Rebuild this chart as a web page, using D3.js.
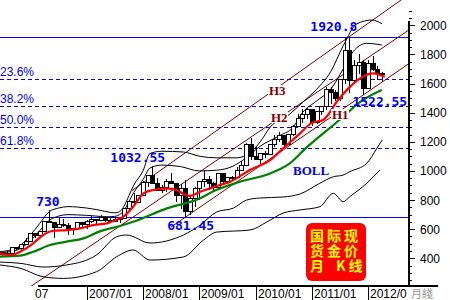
<!DOCTYPE html>
<html>
<head>
<meta charset="utf-8">
<script src="https://cdn.jsdelivr.net/npm/d3@7/dist/d3.min.js"></script>
<style>
  body { margin: 0; background: #fff; }
  svg { display: block; }
</style>
</head>
<body>
<div id="chart"></div>
<script>
// monthly candles, index 0 = 2005/07
const opens  = [437,429,433,473,470,495, 513,568,556,582,654,643,613,632,623,599,604,646,
                632,650,665,662,679,659,650,665,672,743,789,783, 834,923,972,916,864,886,928,912,833,880,718,814,
                882,928,942,917,883,979,927,955,955,1001,1040,1182, 1096,1081,1118,1113,1180,1213,1244,1181,1248,1307,1357,1386,
                1421,1333,1410,1439,1556,1536,1500,1628,1825,1620,1722,1746, 1564,1737,1697,1669];
const highs  = [439,447,476,476,497,539, 572,574,589,654,730,643,679,667,640,608,649,648,
                662,691,673,697,691,674,683,676,745,795,845,837, 934,975,1032.55,951,904,945,988,915,907,935,828,889,
                930,1006,962,921,981,989,960,964,1024,1070,1195,1227, 1162,1125,1140,1183,1249,1265,1246,1250,1314,1388,1424,1431,
                1424,1412,1447,1576,1577,1556,1633,1912,1920.8,1761,1803,1764, 1764,1790,1718,1680];
const lows   = [418,427,433,457,456,489, 513,538,537,581,641,542,605,613,560,561,603,612,
                603,645,636,660,651,642,648,640,672,720,776,782, 834,888,914,863,850,856,908,786,740,681.45,700,753,
                802,890,866,865,868,913,908,928,950,1001,1036,1076, 1073,1045,1088,1113,1164,1199,1155,1180,1242,1305,1331,1360,
                1308,1325,1381,1417,1462,1478,1478,1600,1532,1602,1667,1522.55, 1562,1687,1627,1613];
const closes = [429,433,473,470,495,513, 568,556,582,654,643,613,632,623,599,604,646,632,
                650,665,662,679,659,650,665,672,743,789,783,834, 923,972,916,864,886,928,912,833,880,718,814,882,
                928,942,917,883,979,927,955,955,1001,1040,1182,1096, 1081,1118,1113,1180,1213,1244,1181,1248,1307,1357,1386,1421,
                1333,1410,1439,1556,1536,1500,1628,1825,1620,1722,1746,1564, 1737,1697,1669,1664];

// lines: [month index, price]
const maRed = [[-0.5,434],[1.6,422],[3.8,445],[6.6,503],[8.7,560],[10.9,589],[13.7,594],[16.6,606],[19.4,628],
               [22.3,640],[24,660],[25.8,685],[27.9,754],[30.1,846],[32.2,869],[35.1,880],[37.2,869],[39,835],[40,828],
               [42.2,857],[44.3,880],[46.4,903],[48.6,926],[52.8,1006],[57.1,1075],[59.9,1155],[63.5,1258],[66,1330],
               [68.4,1350],[71.6,1487],[73.8,1567],[76.3,1636],[79.1,1670],[80.5,1659],[81.6,1647]];
const maGreen = [[-0.5,411],[3.8,418],[6.6,445],[10.2,491],[13.7,514],[17.3,537],[20.8,585],[25.1,622],[27.9,651],
                 [35.1,743],[42.2,812],[45,860],[50.7,926],[57.1,983],[61.3,1052],[64.5,1150],[72.7,1372],[75.9,1464],
                 [80.9,1555]];
const bandUpOuter = [[-0.5,445],[3,470],[6,560],[8,640],[10,720],[12,745],[14,755],[16,752],[18,745],[20,735],[22,722],
                     [24,712],[25,720],[26,760],[27,830],[28,900],[30,1000],[31.5,1120],[34,1135],[38.6,1130],[42.2,1100],
                     [45.7,1090],[50,1090],[52.8,1125],[55,1200],[57.1,1300],[61.3,1390],[64,1470],[67,1560],[70,1680],
                     [72.7,1860],[75.6,2010],[78.8,2036],[81,2010]];
const bandUpInner = [[-0.5,438],[3,455],[6,520],[8,590],[10,660],[12,690],[14,700],[16,698],[18,695],[20,690],[22,685],
                     [24,688],[25,700],[26,730],[27,790],[28,850],[30,940],[31.5,1020],[34,1040],[38,1030],[42,1000],
                     [45.7,1005],[49,1030],[52,1090],[55,1170],[59,1240],[62,1300],[64,1400],[67,1480],[70,1560],
                     [72.7,1700],[74.8,1819],[77.7,1876],[80.9,1865]];
const bandLowInner = [[-0.5,374],[4,365],[8.7,340],[13.7,354],[20.1,423],[24.4,548],[26.5,560],[31.5,505],
                      [38.6,560],[42.2,628],[45.7,718],[49.3,745],[52.1,800],[54.9,814],[59.9,821],[63.5,842],
                      [67.7,915],[70.6,960],[72.7,972],[74.1,995],[77.7,1052],[79.9,1157],[81,1212]];
const bandLowOuter = [[-0.5,354],[4,330],[8.7,273],[13,262],[20.1,308],[24.4,411],[27.9,457],[31.5,388],
                      [38.6,409],[42.9,525],[45.7,580],[52.8,594],[56.4,649],[59.9,711],[63.5,732],
                      [67.7,754],[70.6,846],[72.7,789],[74.1,823],[77.7,915],[80.5,1006]];

// trend channel lines: [month, price, month, price]
const trendLines = [[36,615,86.7,1737],[6,205,86.7,1968],[27.6,864,86.7,2212]];
const trendNames = ["H1","H2","H3"];

// retracement between 681.45 and 1920.8
const swingLow = 681.45, swingHigh = 1920.8;
const fibLevels = [0.236, 0.382, 0.5, 0.618];
const fibLabels = ["23.6%","38.2%","50.0%","61.8%"];

const yTicks = [400,600,800,1000,1200,1400,1600,1800,2000];
const xTickMonths = [0,18,30,42,54,66,78];
const xTickLabels = ["07","2007/01","2008/01","2009/01","2010/01","2011/01","2012/0"];

const W = 450, H = 300, axisX = 409, axisY = 286;

const x = d3.scaleLinear().domain([18, 78]).range([86.7, 368.1]);
const y = d3.scaleLinear().domain([400, 2000]).range([258.3, 25.3]);

const svg = d3.select("#chart").append("svg")
  .attr("width", W).attr("height", H)
  .attr("font-family", "'Liberation Sans', Arial, sans-serif");

const defs = svg.append("defs");
defs.append("clipPath").attr("id", "plot")
  .append("rect").attr("x", 0).attr("y", 0).attr("width", axisX).attr("height", axisY);

const plot = svg.append("g").attr("clip-path", "url(#plot)");

// horizontal price lines
plot.selectAll(".hl").data([swingHigh, swingLow]).enter().append("line")
  .attr("x1", 0).attr("x2", axisX)
  .attr("y1", d => Math.round(y(d)) + 0.5).attr("y2", d => Math.round(y(d)) + 0.5)
  .attr("stroke", "#0000ff").attr("stroke-width", 1);

const fibValues = fibLevels.map(f => swingHigh - f * (swingHigh - swingLow));
plot.selectAll(".fib").data(fibValues).enter().append("line")
  .attr("x1", 0).attr("x2", axisX)
  .attr("y1", d => Math.round(y(d)) + 0.5).attr("y2", d => Math.round(y(d)) + 0.5)
  .attr("stroke", "#0000ff").attr("stroke-width", 1).attr("stroke-dasharray", "4,3");

// trend lines
plot.selectAll(".tl").data(trendLines).enter().append("line")
  .attr("x1", d => x(d[0])).attr("y1", d => y(d[1]))
  .attr("x2", d => x(d[2])).attr("y2", d => y(d[3]))
  .attr("stroke", "#800000").attr("stroke-width", 1);

// bollinger bands
const curve = d3.line().x(d => x(d[0])).y(d => y(d[1])).curve(d3.curveMonotoneX);
[bandUpOuter, bandUpInner, bandLowInner, bandLowOuter].forEach(b => {
  plot.append("path").attr("d", curve(b)).attr("fill", "none")
    .attr("stroke", "#000").attr("stroke-width", 1);
});

// candles
const candles = opens.map((o, i) => ({i: i, o: o, h: highs[i], l: lows[i], c: closes[i]}));
const cg = plot.append("g").attr("shape-rendering", "crispEdges");
cg.selectAll(".wick").data(candles).enter().append("line")
  .attr("x1", d => Math.round(x(d.i)) + 0.5).attr("x2", d => Math.round(x(d.i)) + 0.5)
  .attr("y1", d => y(d.h)).attr("y2", d => y(d.l))
  .attr("stroke", "#000");
cg.selectAll(".body").data(candles).enter().append("rect")
  .attr("x", d => Math.round(x(d.i)) - 1.5)
  .attr("width", 4)
  .attr("y", d => y(Math.max(d.o, d.c)))
  .attr("height", d => Math.max(1, Math.abs(y(d.o) - y(d.c))))
  .attr("fill", d => d.c >= d.o ? "#fff" : "#000")
  .attr("stroke", "#000").attr("stroke-width", 1);

// moving averages
plot.append("path").attr("d", curve(maGreen)).attr("fill", "none")
  .attr("stroke", "#008000").attr("stroke-width", 2.2);
plot.append("path").attr("d", curve(maRed)).attr("fill", "none")
  .attr("stroke", "#ff0000").attr("stroke-width", 2.2);

// axes
const ax = svg.append("g").attr("shape-rendering", "crispEdges");
ax.append("line").attr("x1", axisX).attr("x2", axisX).attr("y1", 21).attr("y2", axisY + 1)
  .attr("stroke", "#000").attr("stroke-width", 2);
ax.append("line").attr("x1", 38).attr("x2", 438).attr("y1", axisY).attr("y2", axisY)
  .attr("stroke", "#000").attr("stroke-width", 2);

const minor = d3.range(250, 2101, 50).filter(v => yTicks.indexOf(v) < 0);
ax.selectAll(".mt").data(minor).enter().append("line")
  .attr("x1", axisX).attr("x2", axisX + 3)
  .attr("y1", d => Math.round(y(d)) + 0.5).attr("y2", d => Math.round(y(d)) + 0.5)
  .attr("stroke", "#000");
ax.selectAll(".yt").data(yTicks).enter().append("line")
  .attr("x1", axisX).attr("x2", axisX + 6)
  .attr("y1", d => Math.round(y(d)) + 0.5).attr("y2", d => Math.round(y(d)) + 0.5)
  .attr("stroke", "#000");
svg.selectAll(".yl").data(yTicks).enter().append("text")
  .attr("x", 420).attr("y", d => y(d) + 4.5)
  .attr("font-size", 12).attr("fill", "#000")
  .text(d => d);

// x ticks and labels (first and last labels are cut in the original)
const xl = svg.append("g");
xl.selectAll(".xt").data(xTickMonths.slice(1)).enter().append("line")
  .attr("x1", d => Math.round(x(d)) + 0.5).attr("x2", d => Math.round(x(d)) + 0.5)
  .attr("y1", axisY).attr("y2", H)
  .attr("stroke", "#000").attr("shape-rendering", "crispEdges");
xl.selectAll(".xtl").data(xTickMonths).enter().append("text")
  .attr("x", d => d === 0 ? 35 : Math.round(x(d)) + 2).attr("y", 298)
  .attr("font-size", 12).attr("fill", "#000")
  .text((d, i) => xTickLabels[i]);

svg.append("text").attr("x", 411).attr("y", 298)
  .attr("font-family", "'Noto Sans CJK TC', sans-serif").attr("font-size", 11)
  .attr("fill", "#999").text("月綫");

// fib labels
svg.selectAll(".fl").data(fibValues).enter().append("text")
  .attr("x", 0).attr("y", d => y(d) - 3)
  .attr("font-size", 12).attr("fill", "#0000ff")
  .text((d, i) => fibLabels[i]);

// price labels
const mono = "'DejaVu Sans Mono', monospace";
const priceLabels = [
  {t: "1920.8", v: 1920.8, dx: -39, dy: -6},
  {t: "1032.55", v: 1032.55, dx: -42, dy: -4},
  {t: "730", v: 730, dx: -13, dy: -4},
  {t: "681.45", v: 681.45, dx: -18, dy: 13},
  {t: "1522.55", v: 1522.55, dx: -11, dy: 11}
];
const labelMonths = [74, 32, 10, 39, 77];
svg.selectAll(".pl").data(priceLabels).enter().append("text")
  .attr("x", (d, i) => x(labelMonths[i]) + d.dx)
  .attr("y", d => y(d.v) + d.dy)
  .attr("font-family", mono).attr("font-weight", "bold").attr("font-size", 13)
  .attr("fill", "#0000ff")
  .text(d => d.t);

// trend names on white patches
const trendLabelPos = [[332, 119], [271, 122], [269, 95]];
trendNames.forEach((n, i) => {
  const p = trendLabelPos[i];
  svg.append("rect").attr("x", p[0] - 1).attr("y", p[1] - 10).attr("width", 18).attr("height", 11)
    .attr("fill", "#fff");
  svg.append("text").attr("x", p[0]).attr("y", p[1])
    .attr("font-family", "'Liberation Serif', serif").attr("font-weight", "bold")
    .attr("font-size", 13).attr("fill", "#800000").text(n);
});

svg.append("text").attr("x", 293).attr("y", 175)
  .attr("font-family", "'Liberation Serif', serif").attr("font-weight", "bold")
  .attr("font-size", 13).attr("fill", "#0000ff").text("BOLL");

// title box
const box = svg.append("g");
box.append("rect").attr("x", 306).attr("y", 223).attr("width", 60).attr("height", 58)
  .attr("rx", 6).attr("fill", "#ff0000");
const boxText = [["国际现", 310, 241], ["货金价", 310, 256], ["月", 310, 271], ["K线", 336, 271]];
box.selectAll("text").data(boxText).enter().append("text")
  .attr("x", d => d[1]).attr("y", d => d[2])
  .attr("font-family", "'Noto Sans CJK SC', sans-serif").attr("font-weight", "bold")
  .attr("font-size", 14).attr("letter-spacing", 3).attr("fill", "#ffff00")
  .text(d => d[0]);
</script>
</body>
</html>
